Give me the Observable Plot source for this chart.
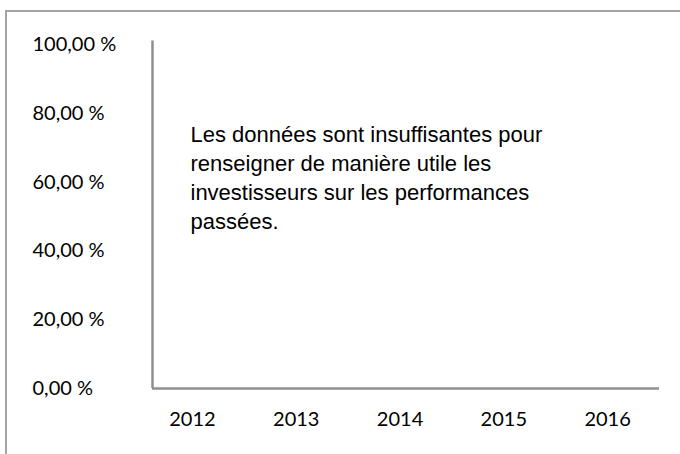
<!DOCTYPE html>
<html>
<head>
<meta charset="utf-8">
<script src="https://cdn.jsdelivr.net/npm/d3@7"></script>
<script src="https://cdn.jsdelivr.net/npm/@observablehq/plot@0.6"></script>
<style>
  html, body { margin: 0; padding: 0; background: #fff; }
  #wrap { position: relative; width: 680px; height: 454px; overflow: hidden; }
  #border { position: absolute; left: 5px; top: 10px; right: -4px; bottom: -4px;
            border-left: 2px solid #a3a3a3; border-top: 2px solid #a3a3a3; pointer-events: none; }
</style>
</head>
<body>
<div id="wrap"><div id="border"></div></div>
<script>
const years = [2012, 2013, 2014, 2015, 2016];
const yTicks = [0, 20, 40, 60, 80, 100];
const yTickLabels = ["0,00 %", "20,00 %", "40,00 %", "60,00 %", "80,00 %", "100,00 %"];
const noteLines = [
  "Les données sont insuffisantes pour",
  "renseigner de manière utile les",
  "investisseurs sur les performances",
  "passées."
];

const xMin = 2011.615, xMax = 2016.5;
const axisColor = "#8f8f8f";
const labelFont = "Lato, 'Open Sans', sans-serif";

const chart = Plot.plot({
  width: 680,
  height: 454,
  marginLeft: 152,
  marginRight: 21,
  marginTop: 44,
  marginBottom: 66,
  x: { type: "linear", domain: [xMin, xMax], axis: null },
  y: { domain: [0, 100], axis: null },
  style: { background: "transparent" },
  marks: [
    Plot.ruleY([0], { x1: xMin, x2: xMax, stroke: axisColor, strokeWidth: 2.5 }),
    Plot.ruleX([xMin], { y1: 0, y2: 101, stroke: axisColor, strokeWidth: 2.5 }),
    Plot.text(yTicks, {
      y: d => d,
      text: (d, i) => yTickLabels[i],
      frameAnchor: "left",
      textAnchor: "start",
      dx: -120,
      fontSize: 20,
      fontFamily: labelFont,
      fill: "#000"
    }),
    Plot.text(years, {
      x: d => d,
      text: d => String(d),
      frameAnchor: "bottom",
      dy: 37,
      fontSize: 20,
      fontFamily: labelFont,
      fill: "#000"
    }),
    Plot.text([noteLines.join("\n")], {
      frameAnchor: "top-left",
      dx: 38,
      dy: 77,
      textAnchor: "start",
      lineAnchor: "top",
      lineHeight: 1.32,
      fontSize: 22,
      fontFamily: "Liberation Sans, Arial, sans-serif",
      fill: "#000"
    })
  ]
});
document.getElementById("wrap").prepend(chart);
</script>
</body>
</html>
